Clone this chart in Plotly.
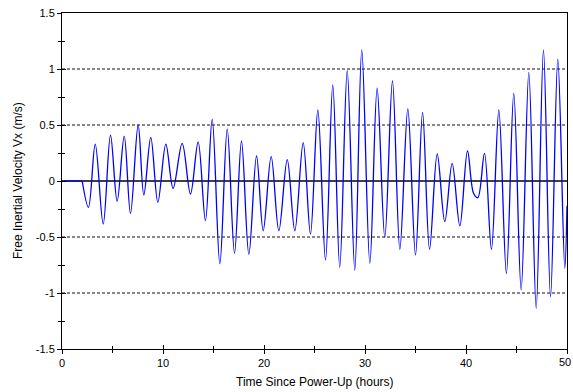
import plotly.graph_objects as go

# Extrema of the free inertial velocity trace (hours, m/s)
time_h = [0.2, 2.0, 2.62, 3.29, 4.08, 4.80, 5.46, 6.16, 6.78, 7.54, 8.10, 8.79, 9.49,
          10.28, 11.0, 11.9, 12.72, 13.48, 14.2, 14.87, 15.63, 16.36, 17.08, 17.77,
          18.5, 19.26, 19.92, 20.71, 21.47, 22.3, 23.05, 23.88, 24.6, 25.33, 26.09,
          26.81, 27.5, 28.24, 28.99, 29.68, 30.48, 31.2, 31.96, 32.72, 33.45, 34.24,
          35.0, 35.7, 36.39, 37.15, 37.9, 38.63, 39.39, 40.15, 40.75, 41.17, 41.83,
          42.52, 43.25, 44.0, 44.73, 45.46, 46.22, 46.95, 47.67, 48.37, 49.09, 49.78,
          50.0]
vx = [0.0, 0.0, -0.235, 0.33, -0.384, 0.41, -0.18, 0.40, -0.29, 0.50, -0.125, 0.39,
      -0.19, 0.33, -0.065, 0.336, -0.116, 0.35, -0.354, 0.55, -0.74, 0.464, -0.646,
      0.357, -0.655, 0.223, -0.444, 0.217, -0.444, 0.19, -0.444, 0.342, -0.473,
      0.634, -0.705, 0.857, -0.77, 0.985, -0.795, 1.17, -0.735, 0.828, -0.503, 0.893,
      -0.61, 0.643, -0.66, 0.61, -0.61, 0.241, -0.363, 0.158, -0.40, 0.268, -0.11,
      -0.149, 0.247, -0.61, 0.634, -0.824, 0.783, -0.973, 0.97, -1.137, 1.17, -1.033,
      1.087, -0.78, -0.22]

x_ticks = [0, 10, 20, 30, 40, 50]
x_tick_text = ["0", "10", "20", "30", "40", "50"]
y_ticks = [-1.5, -1, -0.5, 0, 0.5, 1, 1.5]
y_tick_text = ["-1.5", "-1", "-0.5", "0", "0.5", "1", "1.5"]
grid_levels = [-1, -0.5, 0.5, 1]
x_minor = [5, 15, 25, 35, 45]
y_minor = [-1.25, -0.75, -0.25, 0.25, 0.75, 1.25]

fig = go.Figure()

for g in grid_levels:
    fig.add_trace(go.Scatter(x=[0, 50], y=[g, g], mode="lines",
                             line=dict(color="#111111", width=1, dash="3px,2px"),
                             hoverinfo="skip", showlegend=False))
fig.add_trace(go.Scatter(x=[0, 50], y=[0, 0], mode="lines",
                         line=dict(color="black", width=1.5),
                         hoverinfo="skip", showlegend=False))

# flat pre-alignment part, then the oscillation
fig.add_trace(go.Scatter(x=time_h[:2], y=vx[:2], mode="lines",
                         line=dict(color="#0000ff", width=1.3), showlegend=False))
fig.add_trace(go.Scatter(x=time_h[1:], y=vx[1:], mode="lines",
                         line=dict(color="#0000ff", width=1.3, shape="spline", smoothing=1.0),
                         showlegend=False))

# inside tick marks via overlay axes (to make "cross" ticks)
fig.add_trace(go.Scatter(x=[0], y=[0], xaxis="x2", yaxis="y2", mode="markers",
                         marker=dict(opacity=0), showlegend=False, hoverinfo="skip"))

font = dict(family="Liberation Sans, Arial, sans-serif", size=11, color="black")

# last x label sits at the page edge; draw it right-anchored so it is not clipped
x_labels_axis = x_tick_text[:-1] + [""]
last_label = dict(text=x_tick_text[-1], xref="x", yref="paper", x=x_ticks[-1], y=0,
                  xanchor="right", xshift=6, yanchor="top", yshift=-5,
                  showarrow=False, font=dict(size=11))

fig.update_layout(
    width=573, height=392,
    margin=dict(l=62, r=6, t=13, b=43, autoexpand=False),
    paper_bgcolor="white", plot_bgcolor="white",
    font=font,
    xaxis=dict(range=[0, 50], tickvals=x_ticks, ticktext=x_labels_axis,
               ticks="outside", ticklen=4,
               tickcolor="black", showgrid=False, zeroline=False, automargin=False,
               ticklabeloverflow="allow",
               showline=True, linecolor="black", linewidth=1, mirror=True,
               minor=dict(tickvals=x_minor, ticks="outside", ticklen=3,
                          tickcolor="black", showgrid=False)),
    yaxis=dict(range=[-1.5, 1.5], tickvals=y_ticks, ticktext=y_tick_text,
               ticks="outside", ticklen=4, tickcolor="black", automargin=False,
               ticklabeloverflow="allow",
               showgrid=False, zeroline=False,
               showline=True, linecolor="black", linewidth=1, mirror=True,
               minor=dict(tickvals=y_minor, ticks="outside", ticklen=3,
                          tickcolor="black", showgrid=False)),
    xaxis2=dict(range=[0, 50], overlaying="x", side="bottom", anchor="y2",
                tickvals=x_ticks, ticks="inside", ticklen=4, tickcolor="black",
                showticklabels=False, showgrid=False, zeroline=False, showline=False,
                minor=dict(tickvals=x_minor, ticks="inside", ticklen=3,
                           tickcolor="black", showgrid=False)),
    yaxis2=dict(range=[-1.5, 1.5], overlaying="y", side="left", anchor="x2",
                tickvals=y_ticks, ticks="inside", ticklen=4, tickcolor="black",
                showticklabels=False, showgrid=False, zeroline=False, showline=False,
                minor=dict(tickvals=y_minor, ticks="inside", ticklen=3,
                           tickcolor="black", showgrid=False)),
    annotations=[
        last_label,
        dict(text="Time Since Power-Up (hours)", xref="paper", yref="paper",
             x=0.5, y=0, yshift=-33, yanchor="middle", showarrow=False,
             font=dict(size=12)),
        dict(text="Free Inertial Velocity Vx (m/s)", xref="paper", yref="paper",
             x=0, xshift=-44, y=0.5, textangle=-90, xanchor="center",
             yanchor="middle", showarrow=False, font=dict(size=12)),
    ],
)

# remove the default page margin so the 573x392 figure fills the window exactly
page_fix = ("document.body.style.margin='0';"
            "document.documentElement.style.overflow='hidden';")
fig.write_html("out.html", post_script=page_fix,
               config={"displayModeBar": False})
